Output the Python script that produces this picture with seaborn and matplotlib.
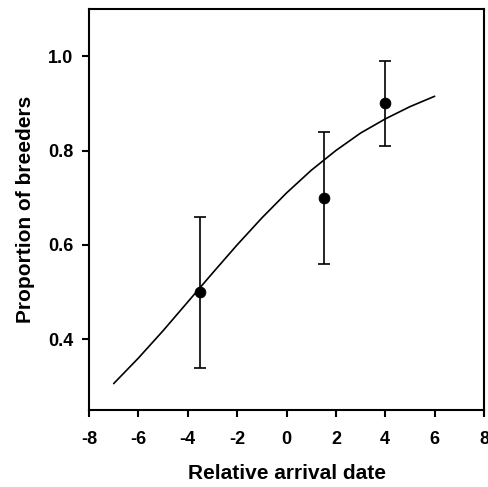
import matplotlib
matplotlib.use("Agg")
import matplotlib.pyplot as plt
import seaborn as sns
import pandas as pd

arrival = [-3.5, 1.5, 4.0]
proportion = [0.50, 0.70, 0.90]
err_low = [0.34, 0.56, 0.81]
err_high = [0.66, 0.84, 0.99]

# Fitted curve
curve_x = [-7, -6, -5, -4, -3, -2, -1, 0, 1, 2, 3, 4, 5, 6]
curve_y = [0.306, 0.360, 0.418, 0.479, 0.540, 0.600, 0.657, 0.710,
           0.758, 0.800, 0.837, 0.867, 0.893, 0.915]

x_ticks = [-8, -6, -4, -2, 0, 2, 4, 6, 8]
y_ticks = [0.4, 0.6, 0.8, 1.0]

sns.set_style("ticks")
plt.rcParams['font.family'] = ['Liberation Sans', 'DejaVu Sans']

fig = plt.figure(figsize=(4.89, 4.87), dpi=100)
ax = fig.add_axes([89/489, 1 - 410/487, 395/489, 401/487])

pts = pd.DataFrame({"x": arrival, "y": proportion})
crv = pd.DataFrame({"x": curve_x, "y": curve_y})

sns.lineplot(data=crv, x="x", y="y", ax=ax, color="black", linewidth=1.2)
yerr = [[p - l for p, l in zip(proportion, err_low)],
        [h - p for p, h in zip(proportion, err_high)]]
ax.errorbar(arrival, proportion, yerr=yerr, fmt="none", ecolor="black",
            elinewidth=1.2, capsize=4, capthick=1.2)
sns.scatterplot(data=pts, x="x", y="y", ax=ax, color="black", s=60,
                edgecolor="black", zorder=5)

ax.set_xlim(-8, 8)
ax.set_ylim(0.25, 1.1)
ax.set_xticks(x_ticks)
ax.set_xticklabels([str(t) for t in x_ticks])
ax.set_yticks(y_ticks)
ax.set_yticklabels([f"{t:.1f}" for t in y_ticks])

for s in ax.spines.values():
    s.set_visible(True)
    s.set_linewidth(1.5)
    s.set_color("black")

ax.tick_params(axis="both", direction="out", length=5, width=1.5,
               labelsize=13, colors="black")
ax.tick_params(axis="x", pad=10)
ax.tick_params(axis="y", pad=6.5)
ax.tick_params(axis="both", which="both", top=False, right=False)
for lab in ax.get_xticklabels() + ax.get_yticklabels():
    lab.set_fontweight("bold")

ax.set_xlabel("Relative arrival date", fontsize=15, fontweight="bold",
              color="black", labelpad=11.5)
ax.set_ylabel("Proportion of breeders", fontsize=15, fontweight="bold",
              color="black", labelpad=9)

fig.savefig("out.png", dpi=100)
